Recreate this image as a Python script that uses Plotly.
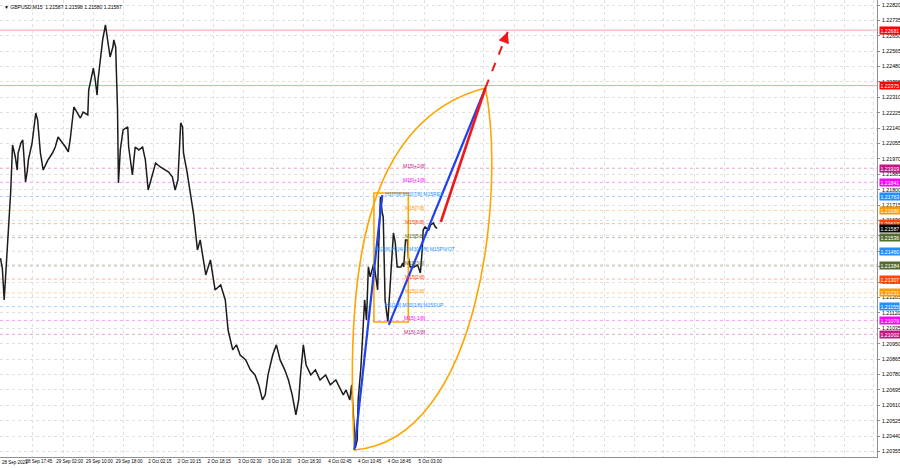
import plotly.graph_objects as go

# ---------------- data ----------------
# bar index (M15 bars from the first visible bar) and close price
bar = [0,2,4,6,9,11,13,16,18,19,22,24,25,27,29,30,34,38,40,41,43,46,51,56,59,62,67,70,73,75,
       79,83,86,89,94,95,99,100,102,104,105,108,110,113,115,118,121,122,124,126,127,129,132,137,138,142,145,149,153,156,
       159,164,167,172,178,181,185,188,191,194,196,197,201,205,208,212,215,221,226,231,237,242,245,250,254,258,264,269,274,278,
       282,285,288,293,297,301,306,310,314,318,321,323,326,329,334,339,344,350,355,361,366,369,372,376,378,382,384,385,388,390,
       392,394,395,396,398,402,404,406,407,409,411,412,414,417,420,422,423,425,427,431,433,434,436,438,439,441,445,449,452,454,
       455,457,461,463,466,468,470]
close = [1.21423,1.21368,1.21192,1.21346,1.21622,1.21788,1.22047,1.21981,1.21909,1.22003,1.22058,1.22075,1.22003,1.21843,1.21909,
         1.21964,1.22058,1.22224,1.22185,1.22113,1.22003,1.21909,1.21964,1.22003,1.22036,1.22091,1.22058,1.22036,1.22009,1.22075,
         1.22257,1.22224,1.22196,1.22229,1.22213,1.22351,1.22445,1.22472,1.22406,1.22323,1.22406,1.22533,1.22627,1.22710,1.22627,
         1.22533,1.22588,1.22627,1.22588,1.22240,1.21838,1.22020,1.22130,1.22147,1.22036,1.21882,1.22036,1.22020,1.22036,1.21964,
         1.21799,1.21893,1.21948,1.21926,1.21909,1.21898,1.21871,1.21799,1.21854,1.22169,1.22147,1.22003,1.21893,1.21744,1.21661,
         1.21468,1.21523,1.21330,1.21413,1.21247,1.21275,1.21192,1.21026,1.20916,1.20944,1.20888,1.20861,1.20806,1.20778,1.20723,
         1.20640,1.20668,1.20778,1.20888,1.20944,1.20861,1.20806,1.20750,1.20668,1.20557,1.20640,1.20778,1.20944,1.20833,1.20778,
         1.20806,1.20750,1.20778,1.20723,1.20750,1.20695,1.20668,1.20695,1.20640,1.20723,1.20375,1.20419,1.20640,1.20822,1.21026,
         1.21192,1.21082,1.21286,1.21374,1.21319,1.21396,1.21319,1.21247,1.21468,1.21760,1.21672,1.21650,1.21192,1.21071,1.21319,
         1.21540,1.21562,1.21507,1.21374,1.21374,1.21396,1.21374,1.21523,1.21523,1.21429,1.21374,1.21374,1.21385,1.21341,1.21468,
         1.21578,1.21595,1.21578,1.21606,1.21617,1.21595,1.21587]

date_tick_bars = [0,35,68,100,132,165,197,229,262,294,326,359,391,423,456]
date_tick_text = ["28 Sep 2023","28 Sep 17:45","29 Sep 02:00","29 Sep 10:00","29 Sep 18:00","2 Oct 02:15",
                  "2 Oct 10:15","2 Oct 18:15","3 Oct 02:30","3 Oct 10:30","3 Oct 18:30","4 Oct 02:45",
                  "4 Oct 10:45","4 Oct 18:45","5 Oct 03:00"]
future_grid_bars = [488,520,553,585,617,650,682,714,747,779,811,844,876,908,940]

price_ticks = [1.20355,1.20440,1.20525,1.20610,1.20695,1.20780,1.20865,1.20950,1.21035,1.21120,
               1.21205,1.21290,1.21375,1.21460,1.21545,1.21630,1.21715,1.21800,1.21885,1.21970,
               1.22055,1.22140,1.22225,1.22310,1.22395,1.22480,1.22565,1.22650,1.22735,1.22820]

level_prices = [1.21919,1.21841,1.21763,1.21686,1.21613,1.21536,1.21460,1.21384,1.21307,1.21231,1.21155,1.21079,1.21002]
level_names = ["M15[+2/8]","M15[+1/8]","H1[7/8] M30[7/8] M15RES","M15[7/8]","M15[6/8]","M15[5/8]",
               "H4[2/8] H1[4/8] M30[4/8] M15PIVOT","M15[3/8]","M15[2/8]","M15[1/8]",
               "H1[1/8] M30[1/8] M15SUP","M15[-1/8]","M15[-2/8]"]
level_colors = ["#C71585","#FF00FF","#1E90FF","#FF9900","#FF4500","#556B2F","#1E90FF",
                "#556B2F","#FF4500","#FF9900","#1E90FF","#FF00FF","#C71585"]
level_label_bar = 446

red_levels = [1.22681, 1.22375]
current_price = 1.21587

# drawing objects (bar, price)
box_bars = [402, 439]
box_prices = [1.21070, 1.21782]
blue1_bars = [381, 411]
blue1_prices = [1.20364, 1.21771]
blue2_bars = [418, 522]
blue2_prices = [1.21054, 1.22362]
red_bars = [474, 522]
red_prices = [1.21622, 1.22362]
target_bars = [522, 546]
target_prices = [1.22362, 1.22671]
# lens: start, left arc controls, end, right arc controls
lens_bars = [381, 371, 388, 522, 544, 517]
lens_prices = [1.20364, 1.21302, 1.22185, 1.22362, 1.21799, 1.20419]

FONT = "Liberation Sans"

fig = go.Figure()

shapes = []
for p, c in zip(level_prices, level_colors):
    shapes.append(dict(type="line", xref="paper", x0=0, x1=1, yref="y", y0=p, y1=p,
                       line=dict(color=c, width=1, dash="dot"), opacity=0.4, layer="below"))
for p in red_levels:
    shapes.append(dict(type="line", xref="paper", x0=0, x1=1, yref="y", y0=p, y1=p,
                       line=dict(color="#F4A0A0", width=1), layer="below"))

b, q = lens_bars, lens_prices
lens_path = (f"M {b[0]},{q[0]} C {b[1]},{q[1]} {b[2]},{q[2]} {b[3]},{q[3]} "
             f"C {b[4]},{q[4]} {b[5]},{q[5]} {b[0]},{q[0]} Z")
shapes.append(dict(type="path", xref="x", yref="y", path=lens_path,
                   line=dict(color="#FFA500", width=1.6), fillcolor="rgba(0,0,0,0)"))
shapes.append(dict(type="rect", xref="x", yref="y", x0=box_bars[0], x1=box_bars[1],
                   y0=box_prices[0], y1=box_prices[1], line=dict(color="#FFA500", width=1.6)))
for bb, pp in [(blue1_bars, blue1_prices), (blue2_bars, blue2_prices)]:
    shapes.append(dict(type="line", xref="x", yref="y", x0=bb[0], x1=bb[1], y0=pp[0], y1=pp[1],
                       line=dict(color="#2040F0", width=2.2)))
shapes.append(dict(type="line", xref="x", yref="y", x0=red_bars[0], x1=red_bars[1],
                   y0=red_prices[0], y1=red_prices[1], line=dict(color="#F01818", width=2.6)))
shapes.append(dict(type="line", xref="x", yref="y", x0=target_bars[0], x1=target_bars[1],
                   y0=target_prices[0], y1=target_prices[1],
                   line=dict(color="#F01818", width=2, dash="dash")))

fig.add_trace(go.Scatter(x=bar, y=close, mode="lines",
                         line=dict(color="#1c1c1c", width=1.5), hoverinfo="skip"))

annotations = []
annotations.append(dict(x=target_bars[1], y=target_prices[1], xref="x", yref="y",
                        ax=target_bars[1] - 3, ay=target_prices[1] - 0.00040, axref="x", ayref="y",
                        showarrow=True, arrowhead=2, arrowsize=1.1, arrowwidth=2,
                        arrowcolor="#F01818", text=""))
for p, n, c in zip(level_prices, level_names, level_colors):
    annotations.append(dict(x=level_label_bar, y=p, xref="x", yref="y", text=n, showarrow=False,
                            font=dict(family=FONT, size=5, color=c), yshift=2))
box_items = [(p, c) for p, c in zip(level_prices, level_colors)] + \
            [(p, "#FF0000") for p in red_levels] + [(current_price, "#000000")]
for p, c in box_items:
    annotations.append(dict(x=1, y=p, xref="paper", yref="y", xanchor="left", xshift=2,
                            text=f"{p:.5f}", showarrow=False, bgcolor=c, borderpad=0.5,
                            font=dict(family=FONT, size=5.2, color="white")))
annotations.append(dict(x=0, y=0, xref="paper", yref="paper", xanchor="left", yanchor="top",
                        xshift=0, yshift=-1, showarrow=False, text=date_tick_text[0],
                        font=dict(family=FONT, size=4.5, color="black")))
annotations.append(dict(x=0, y=1, xref="paper", yref="paper", xanchor="left", yanchor="top",
                        xshift=2, yshift=-2, showarrow=False,
                        text="▼ GBPUSD,M15  1.21587 1.21598 1.21580 1.21587",
                        font=dict(family=FONT, size=5, color="black")))

fig.update_layout(
    width=900, height=468,
    margin=dict(l=0, r=23, t=0, b=11, autoexpand=False),
    paper_bgcolor="white", plot_bgcolor="white",
    showlegend=False,
    shapes=shapes, annotations=annotations,
    xaxis=dict(range=[-0.5, 943.5], automargin=False,
               tickvals=date_tick_bars + future_grid_bars,
               ticktext=[""] + date_tick_text[1:] + [""] * len(future_grid_bars),
               showgrid=True, gridcolor="#e0e0e0", griddash="dot", gridwidth=1,
               zeroline=False, showline=True, linecolor="#909090", linewidth=1,
               ticks="", tickfont=dict(family=FONT, size=4.5, color="black"),
               ticklabelshift=6, ticklabelstandoff=0, tickangle=0,
               ticklabeloverflow="allow"),
    yaxis=dict(side="right", range=[1.20325, 1.228476], automargin=False,
               tickvals=price_ticks, ticktext=[f"{v:.5f}" for v in price_ticks],
               showgrid=True, gridcolor="#e0e0e0", griddash="dot", gridwidth=1,
               zeroline=False, showline=True, linecolor="#909090", linewidth=1,
               ticks="outside", ticklen=2, tickcolor="#909090",
               tickfont=dict(family=FONT, size=5.2, color="black"),
               ticklabelstandoff=1),
)

fig.write_html("out.html", config={"displayModeBar": False},
               post_script="document.body.style.margin='0';document.body.style.overflow='hidden';")
